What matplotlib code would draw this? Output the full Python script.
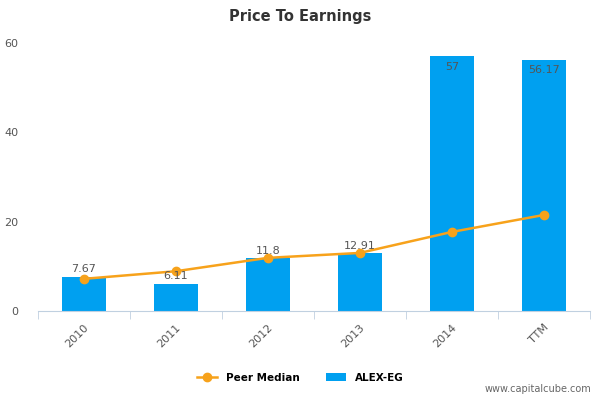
import matplotlib
matplotlib.use("Agg")
import matplotlib.pyplot as plt
import numpy as np

categories = ["2010", "2011", "2012", "2013", "2014", "TTM"]
pe_values = [7.67, 6.11, 11.8, 12.91, 57, 56.17]
peer_median = [7.2, 8.9, 11.9, 13.0, 17.7, 21.5]
yticks = [0, 20, 40, 60]

fig = plt.figure(figsize=(6, 4), dpi=100)
ax = fig.add_axes([0.063, 0.2225, 0.92, 0.67])
x = np.arange(len(categories))
ax.bar(x, pe_values, width=0.48, color="#00a0f0", label="ALEX-EG", zorder=2)
ax.plot(x, peer_median, color="#f7a21b", lw=1.8, marker="o", ms=6, label="Peer Median", zorder=3)
for xi, v in zip(x, pe_values):
    if v > 50:
        ax.text(xi, v - 1.2, f"{v:g}", ha="center", va="top", fontsize=8, color="#555555")
    else:
        ax.text(xi, v + 0.6, f"{v:g}", ha="center", va="bottom", fontsize=8, color="#555555")
ax.set_xlim(-0.5, len(categories) - 0.5)
ax.set_ylim(0, 60)
ax.set_yticks(yticks)
ax.set_xticks(x)
ax.set_xticklabels(categories, rotation=45, ha="right", rotation_mode="anchor")
ax.set_xticks(np.arange(-0.5, len(categories)), minor=True)
ax.tick_params(axis="x", which="major", length=0, labelsize=8, colors="#555555", pad=8)
ax.tick_params(axis="x", which="minor", length=6, color="#c0d0e0")
ax.tick_params(axis="y", length=0, labelsize=8, colors="#555555", pad=14)
for s in ["top", "right", "left"]:
    ax.spines[s].set_visible(False)
ax.spines["bottom"].set_color("#c0d0e0")
fig.text(0.5, 0.96, "Price To Earnings", ha="center", va="center", fontsize=10.5, fontweight="bold", color="#333333")
fig.legend(loc="lower center", bbox_to_anchor=(0.5, 0.02), ncol=2, frameon=False, fontsize=7.5,
           prop={"weight": "bold", "size": 7.5}, handlelength=2, columnspacing=2.5)
fig.text(0.985, 0.015, "www.capitalcube.com", ha="right", va="bottom", fontsize=7, color="#666666")
fig.savefig("out.png")
